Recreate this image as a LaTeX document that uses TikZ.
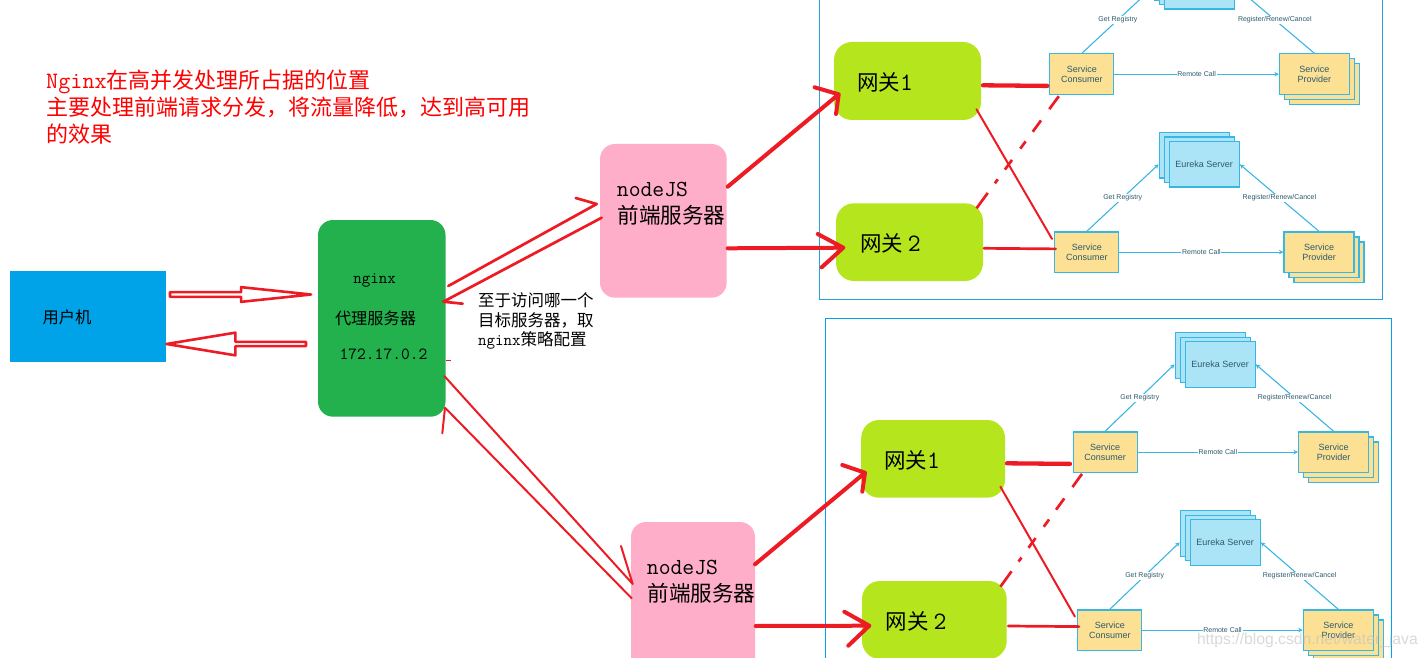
\documentclass[tikz,border=0pt]{standalone}
\usepackage{fontspec}
\setmainfont{Noto Sans CJK SC}
\setsansfont{Liberation Sans}
\usetikzlibrary{arrows.meta,positioning}
\usetikzlibrary{shapes.arrows}
\definecolor{userblue}{HTML}{00A2E8}
\definecolor{nginxgreen}{HTML}{22B14C}
\definecolor{nodepink}{HTML}{FFAEC9}
\definecolor{gatelime}{HTML}{B5E61D}
\definecolor{penred}{HTML}{ED1C24}
\definecolor{svcline}{HTML}{38B6E4}
\definecolor{svcblue}{HTML}{ABE4F6}
\definecolor{svcyellow}{HTML}{FCE195}
\definecolor{svctext}{HTML}{2C5A6B}
\definecolor{frameblue}{HTML}{2A9FD6}
\newcommand{\fs}[1]{\fontsize{#1}{#1}\selectfont}
\newcommand{\gwnum}[1]{{\ttfamily\fs{25}#1}}
\tikzset{
  flowbox/.style={inner sep=0, outer sep=0, rounded corners=#1},
  frame/.style={draw=frameblue, line width=1},
  plaintext/.style={inner sep=0, text=black},
  blockarrow/.style={single arrow, draw=penred, line width=2.6, line join=round, inner sep=0, outer sep=0, anchor=tail},
  penthin/.style={draw=penred, line width=2, line cap=round, line join=round},
  penmid/.style={draw=penred, line width=2.7, line cap=round, line join=round},
  penfat/.style={draw=penred, line width=4, line cap=round, line join=round},
  card/.style={draw=svcline, line width=1.2, anchor=north west, inner sep=0, text=svctext, align=center, font=\sffamily\fs{9}},
  eurekacard/.style={card, fill=svcblue, minimum width=70, minimum height=45.5},
  svccard/.style={card, fill=svcyellow, minimum height=40.4},
  svcarrow/.style={draw=svcline, line width=1.1, -{Stealth[length=4.5,width=4.5]}},
  svclabel/.style={fill=white, inner sep=0.8, text=svctext, font=\sffamily\fs{7}}
}
% prefix, consumer x, row y, eureka x, provider x, eureka text
\newcommand{\svcgroup}[6]{
  \node[eurekacard] (#1e3) at (#4-10,#3-99.3) {};
  \node[eurekacard] (#1e2) at (#4-5,#3-94.8) {};
  \node[eurekacard] (#1e) at (#4,#3-90.3) {#6};
  \node[svccard, minimum width=64] (#1c) at (#2,#3) {Service\\[1pt]Consumer};
  \node[svccard, minimum width=70] (#1p3) at (#5+10,#3+10) {};
  \node[svccard, minimum width=70] (#1p2) at (#5+5,#3+5) {};
  \node[svccard, minimum width=70] (#1p) at (#5,#3) {Service\\[1pt]Provider};
  \draw[svcarrow] (#1c.north) -- node[svclabel] {Get Registry} (#1e3.west |- #1e.west);
  \draw[svcarrow] (#1p.north) -- node[svclabel] {Register/Renew/Cancel} (#1e.east);
  \draw[svcarrow] (#1c.east) -- node[svclabel] {Remote Call} (#1p.west);
}
\begin{document}
\begin{tikzpicture}[x=1pt,y=-1pt]
\clip (0,0) rectangle (1428,658);
\useasboundingbox (0,0) rectangle (1428,658);

\draw[frame] (819.5,-5) rectangle (1382,299.3);
\draw[frame, draw=userblue] (825,318.3) rectangle (1391.5,690);

\svcgroup{aa}{1049.2}{53.3}{1164}{1278.8}{}
\svcgroup{ab}{1054.2}{231.3}{1168.6}{1283.4}{Eureka Server}
\svcgroup{ba}{1072.5}{431.3}{1184.5}{1298}{Eureka Server}
\svcgroup{bb}{1077.2}{609.3}{1189.6}{1302.7}{Eureka Server}

\node[flowbox=0, fill=userblue, minimum width=156, minimum height=91] (user) at (88,316.5) {};
\node[flowbox=15, fill=nginxgreen, minimum width=127.5, minimum height=196.7] (nginx) at (381.75,318.35) {};
\node[flowbox=15, fill=nodepink, minimum width=126.7, minimum height=153.7] (pinka) at (663.35,220.85) {};
\node[flowbox=15, fill=nodepink, minimum width=124, minimum height=158] (pinkb) at (693,601) {};
\node[flowbox=18, fill=gatelime, minimum width=147, minimum height=78] (gwaa) at (907.5,81) {};
\node[flowbox=18, fill=gatelime, minimum width=147, minimum height=77.7] (gwab) at (909.5,242.15) {};
\node[flowbox=18, fill=gatelime, minimum width=143.8, minimum height=77.7] (gwba) at (933.1,458.85) {};
\node[flowbox=18, fill=gatelime, minimum width=144.7, minimum height=78] (gwbb) at (934.35,620) {};

\node[plaintext, anchor=north west, text=red, align=left, font=\fs{22}] (title) at (46,69.5) {{\ttfamily\fs{23.5}Nginx}在高并发处理所占据的位置\\[2.5pt]主要处理前端请求分发，将流量降低，达到高可用\\[4.6pt]的效果};

\node[plaintext, font=\fs{16.3}] (usertext) at (67,317) {用户机};
\node[plaintext, font=\ttfamily\fs{16.5}] (nginxname) at (374.7,280) {nginx};
\node[plaintext, font=\fs{16.2}] (nginxrole) at (375.5,318) {代理服务器};
\node[plaintext, font=\ttfamily\fs{17}] (nginxip) at (383.5,354) {172.17.0.2};
\node[plaintext, anchor=west, font=\fs{16.5}] (notea) at (478,300) {至于访问哪一个};
\node[plaintext, anchor=west, font=\fs{16.5}] (noteb) at (478,320) {目标服务器，取};
\node[plaintext, anchor=west, font=\fs{16.5}] (notec) at (478,340.5) {{\ttfamily nginx}策略配置};

\node[plaintext, anchor=west, font=\ttfamily\fs{23}] (pinkaname) at (616.7,189) {nodeJS};
\node[plaintext, anchor=west, font=\fs{21.6}] (pinkarole) at (617.3,215) {前端服务器};
\node[plaintext, anchor=west, font=\ttfamily\fs{23}] (pinkbname) at (646.7,567) {nodeJS};
\node[plaintext, anchor=west, font=\fs{21.6}] (pinkbrole) at (647.3,593) {前端服务器};

\node[plaintext, anchor=west, font=\fs{21.5}] (gwaatext) at (857,82.7) {网关\gwnum{1}};
\node[plaintext, anchor=west, font=\fs{21.5}] (gwabtext) at (859.8,243.3) {网关 \gwnum{2}};
\node[plaintext, anchor=west, font=\fs{21.5}] (gwbatext) at (884,460.7) {网关\gwnum{1}};
\node[plaintext, anchor=west, font=\fs{21.5}] (gwbbtext) at (885.7,621.7) {网关 \gwnum{2}};

\node[blockarrow, minimum height=141, minimum width=14.7, single arrow tip angle=12, single arrow head extend=2.85] (togo) at (170,294.5) {};
\node[blockarrow, shape border rotate=180, minimum height=139.5, minimum width=22.7, single arrow tip angle=18.7, single arrow head extend=5.5] (goback) at (306,344) {};

\draw[penmid] ([shift={(2.8,-32.35)}]nginx.east) -- ([shift={(-3.3,-16.85)}]pinka.west) -- ++(-21,-6);
\draw[penmid] ([shift={(1.7,-3.15)}]pinka.west) -- ([shift={(-2.2,-16.65)}]nginx.east) -- ++(19.4,2);
\draw[draw=penred, line width=1] ([shift={(0,42.6)}]nginx.east) -- ++(5,0);
\draw[penthin] ([shift={(-1.2,57.65)}]nginx.east) -- ([shift={(1.7,-17)}]pinkb.west) -- ++(-11.7,-38);
\draw[penthin] ([shift={(-3.2,115)}]nginx.east) -- ([shift={(-0.5,89.35)}]nginx.east) -- ([shift={(0.7,-2.7)}]pinkb.west);

\draw[penfat] ([shift={(1,-34.15)}]pinka.east) -- ([shift={(4.7,13.3)}]gwaa.west) -- ++(-24.1,-7) ++(24.1,7) -- ++(-2.7,19.7);
\draw[penfat] ([shift={(1,27.45)}]pinka.east) -- ([shift={(7.3,5.55)}]gwab.west) -- ++(-25.6,-13.7) ++(25.6,13.7) -- ++(-21.6,19.6);
\draw[penfat] ([shift={(0,-36.7)}]pinkb.east) -- ([shift={(3.8,13.85)}]gwba.west) -- ++(-22.7,-7.7) ++(22.7,7.7) -- ++(-2.7,19);
\draw[penfat] ([shift={(0.7,25)}]pinkb.east) -- ([shift={(7.3,5.7)}]gwbb.west) -- ++(-25,-14) ++(25,14) -- ++(-21,20);

\draw[penfat, line width=4.3] ([shift={(2,4.3)}]gwaa.east) -- ([shift={(-1.9,11.8)}]aac.west);
\draw[penthin] ([shift={(-4.5,28.3)}]gwaa.east) -- ([shift={(-2.2,-13.2)}]abc.west);
\draw[penmid, line cap=butt, dash pattern=on 19 off 12 on 5 off 12 on 12 off 14 on 9 off 12 on 14 off 14 on 18] ([shift={(-6.5,-33.85)}]gwab.east) -- ([shift={(9.6,1.3)}]aac.south west);
\draw[penmid] ([shift={(1,6.15)}]gwab.east) -- ([shift={(1.5,-3.2)}]abc.west);

\draw[penfat, line width=4.3] ([shift={(2,4.45)}]gwba.east) -- ([shift={(-2.5,11.8)}]bac.west);
\draw[penthin] ([shift={(-4.6,27.85)}]gwba.east) -- ([shift={(-2.3,-13.5)}]bbc.west);
\draw[penmid, line cap=butt, dash pattern=on 19 off 12 on 5 off 12 on 12 off 14 on 9 off 12 on 14 off 14 on 18] ([shift={(-6.3,-33.3)}]gwbb.east) -- ([shift={(9.5,1)}]bac.south west);
\draw[penmid] ([shift={(1.6,6)}]gwbb.east) -- ([shift={(1.6,-3.5)}]bbc.west);

\node[plaintext, anchor=east, text=gray!50, text opacity=0.6, font=\sffamily\fs{15.7}] (mark) at (1418,640) {https://blog.csdn.net/water\_java};
\end{tikzpicture}
\end{document}
